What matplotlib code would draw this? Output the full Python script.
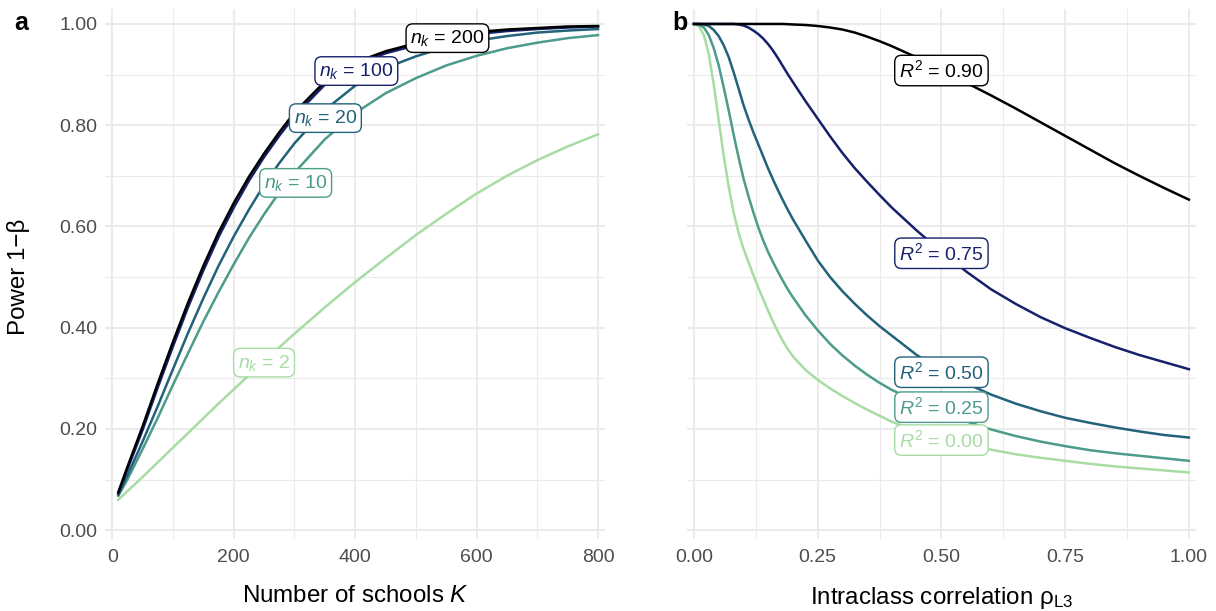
import matplotlib
matplotlib.use("Agg")
import matplotlib.pyplot as plt

plt.rcParams['font.family'] = ['Liberation Sans', 'DejaVu Sans']
plt.rcParams['mathtext.fontset'] = 'custom'
plt.rcParams['mathtext.rm'] = 'Liberation Sans'
plt.rcParams['mathtext.it'] = 'Liberation Sans:italic'
plt.rcParams['mathtext.bf'] = 'Liberation Sans:bold'

# ---------------- data ----------------
# Panel a: power vs number of schools K, one series per n_k
K = [10, 25, 50, 75, 100, 125, 150, 175, 200, 225, 250, 275, 300, 350, 400,
     450, 500, 550, 600, 650, 700, 750, 800]
power_nk200 = [0.075, 0.125, 0.205, 0.290, 0.372, 0.450, 0.522, 0.588, 0.646, 0.698,
               0.744, 0.786, 0.825, 0.886, 0.924, 0.946, 0.962, 0.975, 0.984, 0.989,
               0.992, 0.995, 0.996]
power_nk100 = [0.073, 0.120, 0.198, 0.282, 0.363, 0.441, 0.513, 0.579, 0.637, 0.690,
               0.737, 0.779, 0.818, 0.880, 0.919, 0.942, 0.958, 0.971, 0.980, 0.986,
               0.990, 0.993, 0.995]
power_nk20 = [0.070, 0.108, 0.175, 0.245, 0.318, 0.390, 0.458, 0.522, 0.580, 0.633,
              0.682, 0.725, 0.764, 0.830, 0.878, 0.913, 0.936, 0.955, 0.967, 0.976,
              0.983, 0.987, 0.990]
power_nk10 = [0.068, 0.100, 0.160, 0.222, 0.287, 0.350, 0.412, 0.470, 0.525, 0.577,
              0.624, 0.667, 0.706, 0.772, 0.824, 0.863, 0.893, 0.918, 0.937, 0.952,
              0.963, 0.972, 0.978]
power_nk2 = [0.060, 0.077, 0.105, 0.134, 0.163, 0.192, 0.221, 0.250, 0.278, 0.306,
             0.334, 0.361, 0.388, 0.440, 0.490, 0.537, 0.583, 0.625, 0.665, 0.700,
             0.731, 0.758, 0.782]
nk_labels = ["200", "100", "20", "10", "2"]
nk_label_pos = [(552, 0.972), (402, 0.907), (351, 0.814), (302, 0.686), (250, 0.331)]

# Panel b: power vs intraclass correlation, one series per R^2
icc = [0.00, 0.01, 0.02, 0.03, 0.04, 0.05, 0.06, 0.07, 0.08, 0.09, 0.10, 0.11,
       0.12, 0.13, 0.14, 0.15, 0.16, 0.17, 0.18, 0.19, 0.20, 0.225, 0.25, 0.275,
       0.30, 0.325, 0.35, 0.375, 0.40, 0.45, 0.50, 0.55, 0.60, 0.65, 0.70, 0.75,
       0.80, 0.85, 0.90, 0.95, 1.00]
power_r2_090 = [1.0, 1.0, 1.0, 1.0, 1.0, 1.0, 1.0, 1.0, 1.0, 1.0, 1.0, 1.0,
                1.0, 1.0, 1.0, 1.0, 1.0, 1.0, 1.0, 0.9995, 0.999, 0.998, 0.996, 0.993,
                0.989, 0.983, 0.975, 0.966, 0.956, 0.934, 0.909, 0.884, 0.859, 0.833,
                0.806, 0.779, 0.752, 0.725, 0.700, 0.676, 0.653]
power_r2_075 = [1.0, 1.0, 1.0, 1.0, 1.0, 1.0, 1.0, 1.0, 1.0, 0.999, 0.997, 0.993,
                0.987, 0.980, 0.971, 0.960, 0.947, 0.932, 0.916, 0.900, 0.885, 0.848,
                0.813, 0.778, 0.745, 0.715, 0.688, 0.662, 0.637, 0.592, 0.550, 0.511,
                0.476, 0.447, 0.421, 0.399, 0.380, 0.362, 0.346, 0.332, 0.318]
power_r2_050 = [1.0, 1.0, 0.999, 0.996, 0.988, 0.976, 0.958, 0.935, 0.905, 0.873,
                0.840, 0.812, 0.786, 0.762, 0.738, 0.714, 0.692, 0.671, 0.651, 0.632,
                0.614, 0.573, 0.533, 0.500, 0.472, 0.447, 0.424, 0.403, 0.384, 0.346,
                0.316, 0.290, 0.268, 0.250, 0.235, 0.222, 0.212, 0.203, 0.195, 0.188,
                0.183]
power_r2_025 = [1.0, 0.999, 0.993, 0.978, 0.952, 0.918, 0.875, 0.830, 0.782, 0.737,
                0.695, 0.660, 0.628, 0.598, 0.572, 0.549, 0.529, 0.510, 0.492, 0.475,
                0.460, 0.425, 0.395, 0.368, 0.345, 0.325, 0.307, 0.291, 0.277, 0.254,
                0.234, 0.215, 0.199, 0.186, 0.175, 0.166, 0.158, 0.152, 0.147, 0.142,
                0.137]
power_r2_000 = [1.0, 0.996, 0.978, 0.940, 0.880, 0.810, 0.740, 0.680, 0.628, 0.588,
                0.556, 0.530, 0.504, 0.479, 0.456, 0.433, 0.411, 0.391, 0.373, 0.357,
                0.343, 0.317, 0.297, 0.280, 0.265, 0.251, 0.238, 0.226, 0.214, 0.196,
                0.181, 0.169, 0.159, 0.150, 0.143, 0.137, 0.131, 0.126, 0.122, 0.118,
                0.114]
r2_labels = ["0.90", "0.75", "0.50", "0.25", "0.00"]
r2_label_pos = [(0.5, 0.908), (0.5, 0.547), (0.5, 0.312), (0.5, 0.243), (0.5, 0.178)]

colors = ["#000000", "#16206B", "#22627A", "#4C9B8B", "#A7DCA3"]

# ---------------- figure ----------------
fig = plt.figure(figsize=(12.16, 6.11), dpi=100)
axA = fig.add_axes([0.0863, 0.1174, 0.4115, 0.8674])
axB = fig.add_axes([0.5646, 0.1174, 0.4192, 0.8674])

grid_c = "#EBEBEB"
tick_c = "#4D4D4D"

def style(ax):
    for s in ax.spines.values():
        s.set_visible(False)
    ax.set_facecolor("white")
    ax.grid(True, which="major", color=grid_c, lw=1.5, zorder=0)
    ax.grid(True, which="minor", color=grid_c, lw=0.8, zorder=0)
    ax.set_axisbelow(True)
    ax.tick_params(which="both", length=0, colors=tick_c, labelsize=14)
    ax.tick_params(axis="x", pad=7)
    ax.tick_params(axis="y", pad=5.5)
    ax.set_ylim(-0.018, 1.029)
    ax.set_yticks([0, 0.2, 0.4, 0.6, 0.8, 1.0])
    ax.set_yticks([0.1, 0.3, 0.5, 0.7, 0.9], minor=True)

style(axA)
style(axB)

# Panel a
seriesA = [power_nk200, power_nk100, power_nk20, power_nk10, power_nk2]
for i in range(len(seriesA) - 1, -1, -1):
    axA.plot(K, seriesA[i], color=colors[i], lw=1.8, zorder=3 + (5 - i),
             solid_joinstyle="round")
axA.set_xlim(-12, 812)
axA.set_xticks([0, 200, 400, 600, 800])
axA.set_xticks([100, 300, 500, 700], minor=True)
axA.set_xticklabels(["0", "200", "400", "600", "800"])
axA.set_yticklabels(["0.00", "0.20", "0.40", "0.60", "0.80", "1.00"])
for i, lab in enumerate(nk_labels):
    x, y = nk_label_pos[i]
    axA.text(x, y, r"$n_k$ = " + lab, color=colors[i], fontsize=14,
             ha="center", va="center", zorder=20,
             bbox=dict(boxstyle="round,pad=0.22,rounding_size=0.35", fc="white",
                       ec=colors[i], lw=1.0))

# Panel b
seriesB = [power_r2_090, power_r2_075, power_r2_050, power_r2_025, power_r2_000]
for i in range(len(seriesB) - 1, -1, -1):
    axB.plot(icc, seriesB[i], color=colors[i], lw=1.8, zorder=3 + (5 - i),
             solid_joinstyle="round")
axB.set_xlim(-0.015, 1.015)
axB.set_xticks([0, 0.25, 0.5, 0.75, 1.0])
axB.set_xticks([0.125, 0.375, 0.625, 0.875], minor=True)
axB.set_xticklabels(["0.00", "0.25", "0.50", "0.75", "1.00"])
axB.set_yticklabels([])
for i, lab in enumerate(r2_labels):
    x, y = r2_label_pos[i]
    axB.text(x, y, r"$R^{\mathrm{2}}$ = " + lab, color=colors[i], fontsize=14,
             ha="center", va="center", zorder=20,
             bbox=dict(boxstyle="round,pad=0.22,rounding_size=0.35", fc="white",
                       ec=colors[i], lw=1.0))

# titles
axA.set_xlabel(r"Number of schools $K$", fontsize=17.4, labelpad=14)
axB.set_xlabel(r"Intraclass correlation $\mathrm{ρ}_{\mathrm{L3}}$", fontsize=17.4,
               labelpad=14)
fig.text(0.0152, 0.547, "Power 1−β", rotation=90, fontsize=17.4,
         ha="center", va="center")

fig.text(0.012, 0.962, "a", fontsize=18, fontweight="bold", ha="left", va="center")
fig.text(0.553, 0.962, "b", fontsize=18, fontweight="bold", ha="left", va="center")

fig.savefig("out.png", dpi=100)
